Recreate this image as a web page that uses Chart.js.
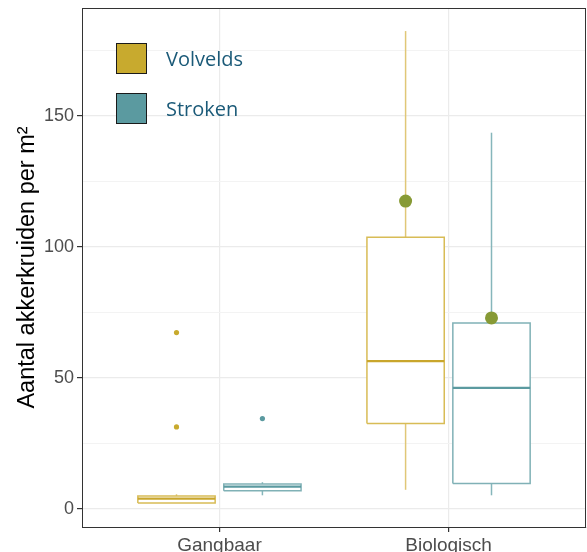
<!DOCTYPE html>
<html>
<head>
<meta charset="utf-8">
<script src="https://cdn.jsdelivr.net/npm/chart.js@4.4.1/dist/chart.umd.min.js"></script>
<style>
  html, body { margin: 0; padding: 0; background: #ffffff; }
  #wrap { position: relative; width: 587px; height: 552px; }
  #legend { position: absolute; left: 116px; top: 43px; font-family: "Open Sans", sans-serif; font-size: 20px; color: #1b5a78; }
  .item { display: flex; align-items: center; height: 31px; margin-bottom: 19px; }
  .swatch { width: 29px; height: 29px; border: 1px solid #1a1a1a; margin-right: 19px; }
</style>
</head>
<body>
<div id="wrap">
  <canvas id="chart" width="587" height="552"></canvas>
  <div id="legend"></div>
</div>
<script>
// Farming systems on the x axis, field layouts as the two boxes per system
const categories = ['Gangbaar', 'Biologisch'];
const series = ['Volvelds', 'Stroken'];

// Box summaries per system: [min, q1, median, q3, max]
const volveldsStats = [[2.3, 2.3, 3.9, 4.9, 5.6], [7.3, 32.6, 56.4, 103.7, 182.4]];
const strokenStats  = [[5.2, 6.9, 8.5, 9.5, 10.2], [5.2, 9.7, 46.2, 71.0, 143.6]];

// Outlying observations per system
const volveldsOutliers = [[31.3, 67.3], []];
const strokenOutliers  = [[34.5], []];

// Means (shown for the organic fields)
const volveldsMeans = [null, 117.5];
const strokenMeans  = [null, 72.9];

const yTicks = [0, 25, 50, 75, 100, 125, 150, 175];

const seriesStyle = [
  { fill: '#c8aa2e', line: '#d8bc56', whisker: '#e0c777', median: '#c9a62c' },
  { fill: '#5b9aa0', line: '#80b1b6', whisker: '#86b6bb', median: '#5b9aa0' }
];
const meanColor = '#879a35';

const allStats = [volveldsStats, strokenStats];
const allOutliers = [volveldsOutliers, strokenOutliers];
const allMeans = [volveldsMeans, strokenMeans];

// Dodged positions on the linear x scale (category i sits at i + 1)
const dodge = 0.75;
const offsets = [-dodge / 4, dodge / 4];
const halfBox = dodge / 2 * 0.9 / 2;

const datasets = [];
series.forEach((name, s) => {
  const st = seriesStyle[s];
  categories.forEach((cat, i) => {
    const [mn, q1, med, q3, mx] = allStats[s][i];
    const x = i + 1 + offsets[s];
    const lineBase = { type: 'line', showLine: true, pointRadius: 0, fill: false, borderWidth: 1.5 };
    datasets.push({ ...lineBase, order: 5, borderColor: st.whisker, data: [{ x, y: q3 }, { x, y: mx }] });
    datasets.push({ ...lineBase, order: 5, borderColor: st.whisker, data: [{ x, y: mn }, { x, y: q1 }] });
    datasets.push({
      ...lineBase, order: 4, borderColor: st.line, backgroundColor: '#ffffff', fill: 'shape',
      data: [{ x: x - halfBox, y: q1 }, { x: x + halfBox, y: q1 }, { x: x + halfBox, y: q3 },
             { x: x - halfBox, y: q3 }, { x: x - halfBox, y: q1 }]
    });
    datasets.push({ ...lineBase, order: 3, borderWidth: 2.2, borderColor: st.median,
      data: [{ x: x - halfBox, y: med }, { x: x + halfBox, y: med }] });
    const outs = allOutliers[s][i];
    if (outs.length) {
      datasets.push({ type: 'scatter', order: 2, pointRadius: 2.6, pointBorderWidth: 0,
        backgroundColor: st.fill, data: outs.map(v => ({ x, y: v })) });
    }
    const m = allMeans[s][i];
    if (m !== null) {
      datasets.push({ type: 'scatter', order: 1, pointRadius: 6.5, pointBorderWidth: 0,
        backgroundColor: meanColor, data: [{ x, y: m }] });
    }
  });
});

// Panel outline on all four sides
const panelBorder = {
  id: 'panelBorder',
  afterDraw(chart) {
    const { ctx, chartArea: a } = chart;
    ctx.save();
    ctx.strokeStyle = '#333333';
    ctx.lineWidth = 1;
    ctx.strokeRect(Math.round(a.left) + 0.5, Math.round(a.top) + 0.5,
                   Math.round(a.right - a.left) - 1, Math.round(a.bottom - a.top));
    ctx.restore();
  }
};

new Chart(document.getElementById('chart'), {
  type: 'scatter',
  data: { datasets },
  options: {
    responsive: false,
    animation: false,
    devicePixelRatio: 1,
    layout: { autoPadding: false, padding: { top: 8, right: 1, left: 0, bottom: 0 } },
    plugins: { legend: { display: false }, tooltip: { enabled: false } },
    scales: {
      x: {
        type: 'linear', min: 0.4, max: 2.6,
        afterBuildTicks: sc => { sc.ticks = categories.map((c, i) => ({ value: i + 1 })); },
        afterFit: sc => { sc.height = 25; sc.paddingLeft = 0; sc.paddingRight = 0; },
        ticks: {
          callback: v => categories[Math.round(v) - 1],
          font: { family: 'Arial, "Liberation Sans", sans-serif', size: 19 },
          color: '#4d4d4d', padding: 2, maxRotation: 0
        },
        grid: { color: '#ebebeb', lineWidth: 1.2, tickLength: 5, tickColor: '#333333' },
        border: { color: '#333333', width: 1 }
      },
      y: {
        type: 'linear', min: -6.9, max: 191.2,
        afterBuildTicks: sc => { sc.ticks = yTicks.map(v => ({ value: v })); },
        afterFit: sc => { sc.width = 82; sc.paddingTop = 0; sc.paddingBottom = 0; },
        ticks: {
          callback: v => (v % 50 === 0 ? String(v) : ''),
          font: { family: 'Arial, "Liberation Sans", sans-serif', size: 18 },
          color: '#4d4d4d', padding: 3
        },
        grid: {
          color: c => (c.tick && c.tick.value % 50 === 0 ? '#ebebeb' : '#f3f3f3'),
          lineWidth: c => (c.tick && c.tick.value % 50 === 0 ? 1.2 : 1),
          tickLength: 5,
          tickColor: c => (c.tick && c.tick.value % 50 === 0 ? '#333333' : 'rgba(0,0,0,0)')
        },
        border: { color: '#333333', width: 1 },
        title: {
          display: true, text: 'Aantal akkerkruiden per m²', color: '#000000',
          font: { family: 'Arial, "Liberation Sans", sans-serif', size: 23.5 },
          padding: { top: 13, bottom: 0 }
        }
      }
    }
  },
  plugins: [panelBorder]
});

// Legend for the two field layouts
const legend = document.getElementById('legend');
series.forEach((name, s) => {
  const item = document.createElement('div');
  item.className = 'item';
  const sw = document.createElement('div');
  sw.className = 'swatch';
  sw.style.background = seriesStyle[s].fill;
  const label = document.createElement('span');
  label.textContent = name;
  item.appendChild(sw);
  item.appendChild(label);
  legend.appendChild(item);
});
</script>
</body>
</html>
